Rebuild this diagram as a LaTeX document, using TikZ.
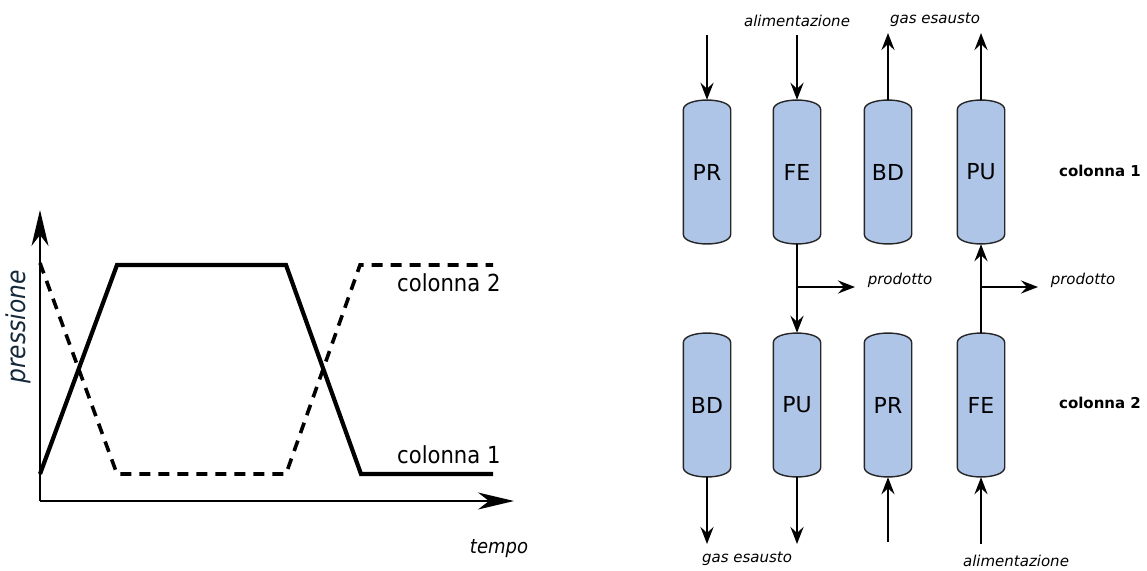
\documentclass[tikz,border=0pt]{standalone}
\usepackage{fontspec}
\setmainfont{DejaVu Sans}
\newfontfamily\condf{DejaVu Sans Condensed}
\usetikzlibrary{arrows.meta,backgrounds}
\definecolor{colfill}{HTML}{AFC5E8}
\definecolor{presscol}{HTML}{15293A}
\newcommand\colshape[1]{%
  \draw[colsh] ([yshift=-10pt]#1.north west) .. controls ([yshift=3pt]#1.north west) and ([yshift=3pt]#1.north east) .. ([yshift=-10pt]#1.north east)
    -- ([yshift=10pt]#1.south east) .. controls ([yshift=-3pt]#1.south east) and ([yshift=-3pt]#1.south west) .. ([yshift=10pt]#1.south west) -- cycle;}
\begin{document}
\begin{tikzpicture}[x=1pt,y=-1pt,
  col/.style={minimum width=47pt, minimum height=144pt, inner sep=0pt,
    font=\fontsize{22}{26}\selectfont},
  colsh/.style={draw=black!85, line width=1.4pt, fill=colfill},
  flow/.style={line width=2.8pt, -{Stealth[length=17pt,width=13pt,inset=6pt]}},
  lab/.style={font=\itshape\fontsize{15}{18}\selectfont, inner sep=0pt, anchor=base},
  rlab/.style={font=\bfseries\fontsize{15}{18}\selectfont, inner sep=0pt, anchor=base},
  axis/.style={line width=1.6pt, -{Stealth[length=36pt,width=17pt,inset=11pt]}},
  c1line/.style={line width=4.2pt, line join=miter},
  c2line/.style={line width=3.6pt, dash pattern=on 11pt off 8pt},
  clab/.style={font=\condf\fontsize{23.5}{28}\selectfont, inner sep=0pt, anchor=base west}
]
\useasboundingbox (0,0) rectangle (1147,570);

% ---------- left chart ----------
\coordinate (O) at (40,501);
\coordinate (ytip) at (40,210);
\coordinate (xtip) at (514,501);
\draw[axis] (O) -- (ytip);
\draw[axis] (O) -- (xtip);
\draw[c1line] (40,474) -- (117,265) -- (286,265) -- (361,474) -- (493,474);
\draw[c2line] (40,263) -- (117,474) -- (286,474) -- (360,265) -- (493,265);
\node[clab] (lc2) at (397,291) {colonna 2};
\node[clab] (lc1) at (397,463) {colonna 1};
\node[font=\condf\itshape\fontsize{26}{30}\selectfont, text=presscol, rotate=90, inner sep=0pt] (press) at (18,327) {pressione};
\node[font=\condf\itshape\fontsize{20}{24}\selectfont, inner sep=0pt, anchor=base] (tempo) at (499,553) {tempo};

% ---------- right diagram ----------
\node[col] (pr1) at (707,172) {PR};
\node[col] (fe1) at (797,172) {FE};
\node[col] (bd1) at (888,172) {BD};
\node[col] (pu1) at (981,172) {PU};
\node[col] (bd2) at (707,405) {BD};
\node[col] (pu2) at (797,405) {PU};
\node[col] (pr2) at (888,405) {PR};
\node[col] (fe2) at (981,405) {FE};
\begin{scope}[on background layer]
  \colshape{pr1}\colshape{fe1}\colshape{bd1}\colshape{pu1}
  \colshape{bd2}\colshape{pu2}\colshape{pr2}\colshape{fe2}
\end{scope}

\node[rlab] (r1) at (1100,176) {colonna 1};
\node[rlab] (r2) at (1100,408) {colonna 2};

% top arrows
\coordinate (t1) at (707,35);
\coordinate (t2) at (797,35);
\coordinate (t3) at (888,33);
\coordinate (t4) at (981,33);
\draw[flow] (t1) -- (pr1.north);
\draw[flow] (t2) -- (fe1.north);
\draw[flow] (bd1.north) -- (t3);
\draw[flow] (pu1.north) -- (t4);
\node[lab] (alim1) at (797,26) {alimentazione};
\node[lab] (gas1) at (935,23) {gas esausto};

% middle
\coordinate (b1) at (797,287);
\coordinate (b2) at (981,287);
\coordinate (p1) at (855,287);
\coordinate (p2) at (1038,287);
\draw[flow] (fe1.south) -- (pu2.north);
\draw[flow] (b1) -- (p1);
\draw[flow] (fe2.north) -- (pu1.south);
\draw[flow] (b2) -- (p2);
\node[lab] (prod1) at (900,284) {prodotto};
\node[lab] (prod2) at (1083,284) {prodotto};

% bottom arrows
\coordinate (u1) at (707,544);
\coordinate (u2) at (797,544);
\coordinate (u3) at (888,542);
\coordinate (u4) at (981,544);
\draw[flow] (bd2.south) -- (u1);
\draw[flow] (pu2.south) -- (u2);
\draw[flow] (u3) -- (pr2.south);
\draw[flow] (u4) -- (fe2.south);
\node[lab] (gas2) at (747,562) {gas esausto};
\node[lab] (alim2) at (1016,566) {alimentazione};
\end{tikzpicture}
\end{document}
